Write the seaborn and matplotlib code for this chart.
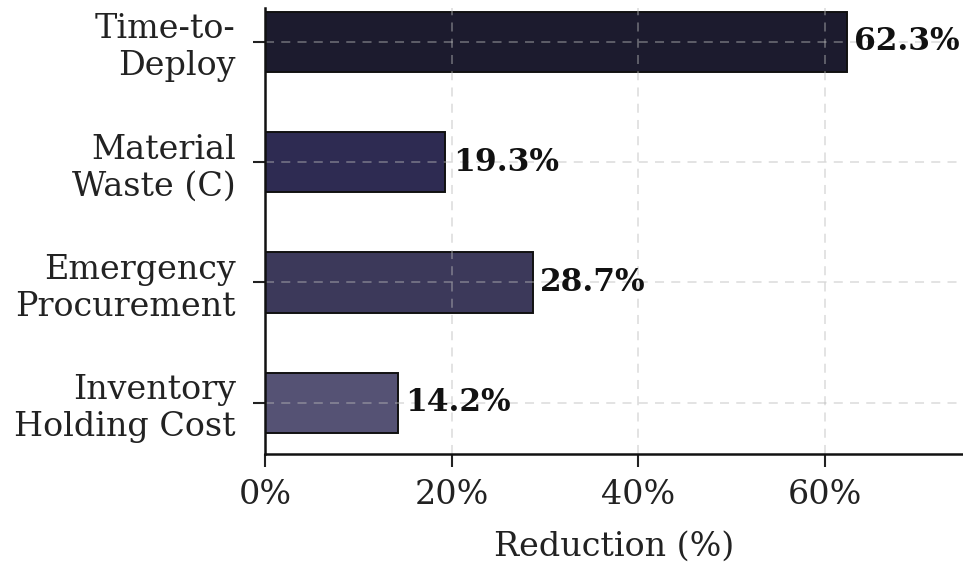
import matplotlib
matplotlib.use("Agg")
import matplotlib.pyplot as plt
import seaborn as sns
import pandas as pd
from matplotlib.ticker import FuncFormatter

categories = ["Time-to-\nDeploy", "Material\nWaste (C)", "Emergency\nProcurement", "Inventory\nHolding Cost"]
reductions = [62.3, 19.3, 28.7, 14.2]
bar_colors = ["#1c1b2e", "#2e2b52", "#3c395a", "#555274"]
x_ticks = [0, 20, 40, 60]

df = pd.DataFrame({"metric": categories, "reduction": reductions})

sns.set_theme(style="white")
plt.rcParams["font.family"] = ["DejaVu Serif"]

fig = plt.figure(figsize=(9.63, 5.62), dpi=100)
ax = fig.add_axes([265 / 963, 108 / 562, 1 - 265 / 963, (454 - 8) / 562])

sns.barplot(data=df, y="metric", x="reduction", hue="metric", palette=bar_colors,
            order=categories, hue_order=categories, orient="h", width=0.5,
            saturation=1, edgecolor="#111111", linewidth=1.4, legend=False, ax=ax)

for i, v in enumerate(reductions):
    ax.text(v + 0.8, i, f"{v:.1f}%", va="center", ha="left",
            fontsize=22.5, fontweight="bold", color="#111111")

ax.set_xlim(0, max(reductions) * 1.2)
ax.set_ylim(3.425, -0.28)
ax.set_xticks(x_ticks)
ax.xaxis.set_major_formatter(FuncFormatter(lambda v, p: f"{v:.0f}%"))
ax.set_xlabel("Reduction (%)", fontsize=24, color="#222222", labelpad=14)
ax.set_ylabel("")

ax.tick_params(axis="both", labelsize=24, colors="#222222", length=9, width=1.5,
               direction="out", left=True, bottom=True)
ax.tick_params(axis="y", pad=12)
ax.tick_params(axis="x", pad=9)
for lbl in ax.get_yticklabels():
    lbl.set_horizontalalignment("right")
    lbl.set_multialignment("right")

ax.grid(True, linestyle=(0, (5, 4)), color="#bbbbbb", alpha=0.45, linewidth=1.3)
ax.set_axisbelow(False)

for side in ["top", "right"]:
    ax.spines[side].set_visible(False)
for side in ["left", "bottom"]:
    ax.spines[side].set_color("#111111")
    ax.spines[side].set_linewidth(1.8)
    ax.spines[side].set_zorder(5)

fig.savefig("out.png", dpi=100)
